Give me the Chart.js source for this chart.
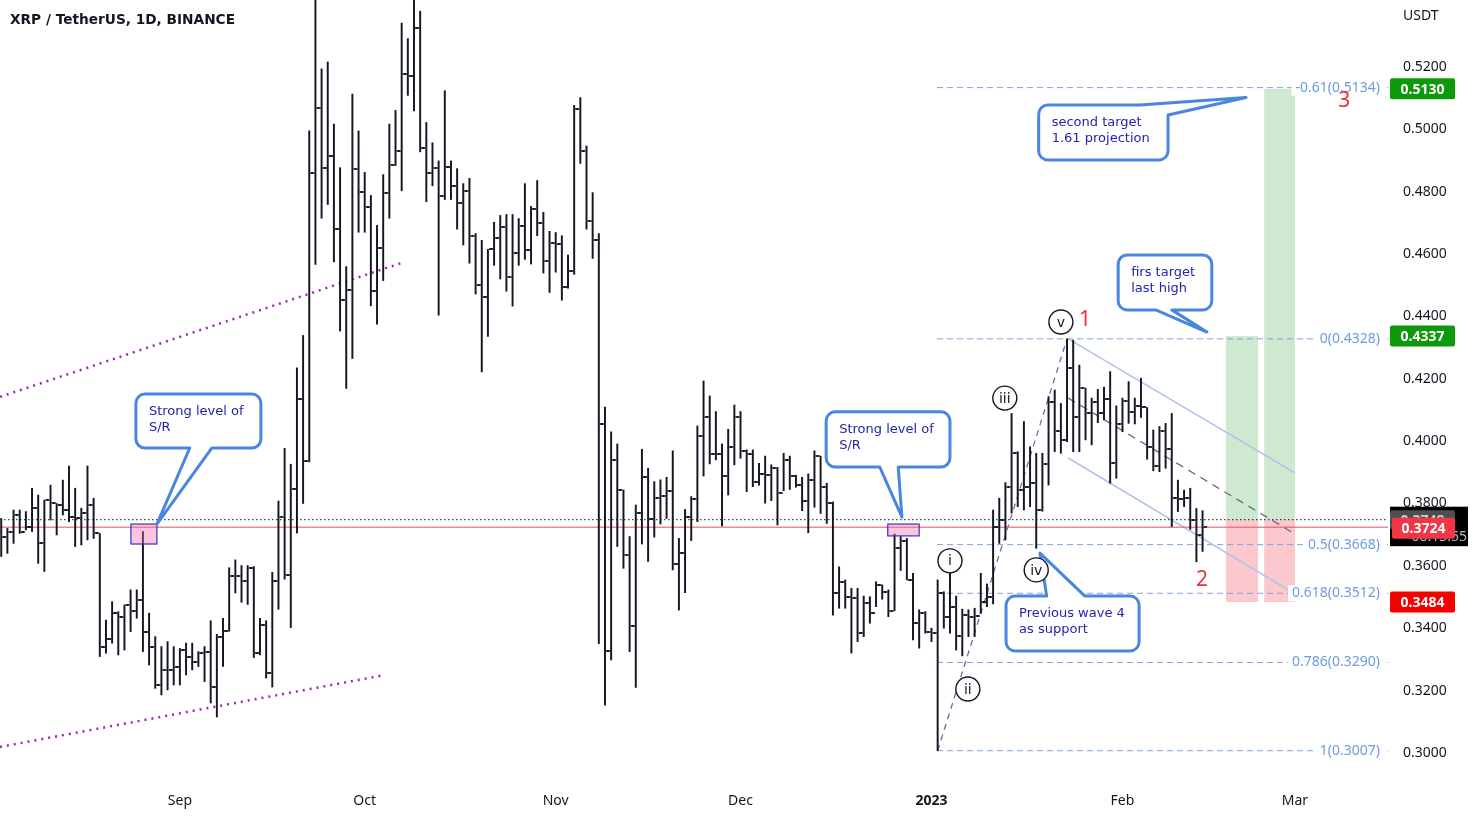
<!DOCTYPE html>
<html>
<head>
<meta charset="utf-8">
<script src="https://cdn.jsdelivr.net/npm/chart.js@4.4.0/dist/chart.umd.min.js"></script>
<style>
html, body { margin: 0; padding: 0; background: #fff; }
#wrap { width: 1475px; height: 818px; position: relative; }
</style>
</head>
<body>
<div id="wrap"><canvas id="canvas"></canvas></div>
<script>
// days are counted from 1 Sep 2022 (day 0), first daily bar is 3 Aug 2022
const firstDay = -29;

const opens = [0.3710,0.3694,0.3710,0.3763,0.3710,0.3725,0.3785,0.3672,0.3811,0.3800,
0.3795,0.3779,0.3758,0.3753,0.3769,0.3795,0.3704,0.3341,0.3364,0.3448,
0.3437,0.3475,0.3455,0.3491,0.3389,0.3341,0.3218,0.3266,0.3266,0.3277,
0.3330,0.3309,0.3293,0.3320,0.3325,0.3211,0.3373,0.3392,0.3569,0.3569,
0.3550,0.3594,0.3321,0.3410,0.3255,0.3550,0.3756,0.3572,0.3845,0.4135,
0.3936,0.4859,0.5068,0.4877,0.4914,0.4682,0.4454,0.4486,0.4874,0.4799,
0.4751,0.4483,0.4619,0.4796,0.4887,0.4931,0.5179,0.5170,0.5325,0.4939,
0.4859,0.4877,0.4787,0.4880,0.4819,0.4763,0.4801,0.4659,0.4502,0.4462,
0.4615,0.4651,0.4688,0.4528,0.4603,0.4690,0.4612,0.4743,0.4699,0.4579,
0.4637,0.4632,0.4495,0.4546,0.5066,0.4930,0.4705,0.4644,0.4055,0.3328,
0.3940,0.3843,0.3635,0.3407,0.3771,0.3886,0.3749,0.3816,0.3825,0.3841,
0.3606,0.3642,0.3756,0.3813,0.4017,0.4076,0.3959,0.3959,0.3888,0.3980,
0.4076,0.3969,0.3959,0.3870,0.3895,0.3891,0.3913,0.3833,0.3940,0.3888,
0.3859,0.3808,0.3875,0.3952,0.3852,0.3800,0.3512,0.3549,0.3501,0.3496,
0.3384,0.3482,0.3448,0.3539,0.3517,0.3456,0.3656,0.3681,0.3555,0.3418,
0.3448,0.3389,0.3384,0.3514,0.3435,0.3469,0.3375,0.3442,0.3437,0.3439,
0.3485,0.3501,0.3726,0.3747,0.3854,0.3961,0.3843,0.3854,0.3867,0.3779,
0.3927,0.4127,0.4034,0.4004,0.4233,0.4076,0.4169,0.4089,0.4124,0.4089,
0.4134,0.3931,0.4055,0.4130,0.4095,0.4113,0.4108,0.3982,0.3920,0.4034,
0.3974,0.3817,0.3813,0.3817,0.3747,0.3699];

const highs = [0.3752,0.3720,0.3779,0.3779,0.3774,0.3849,0.3827,0.3811,0.3859,0.3800,
0.3875,0.3920,0.3849,0.3785,0.3920,0.3817,0.3704,0.3426,0.3485,0.3453,
0.3475,0.3523,0.3523,0.3710,0.3448,0.3373,0.3341,0.3357,0.3341,0.3335,
0.3352,0.3352,0.3325,0.3341,0.3424,0.3380,0.3432,0.3594,0.3619,0.3601,
0.3601,0.3598,0.3432,0.3424,0.3579,0.3808,0.3977,0.3926,0.4235,0.4339,
0.4995,0.5450,0.5194,0.5216,0.5017,0.4877,0.4560,0.5113,0.4995,0.4862,
0.4788,0.4692,0.4855,0.5017,0.5061,0.5341,0.5291,0.5450,0.5379,0.5022,
0.4957,0.4899,0.5124,0.4899,0.4874,0.4826,0.4843,0.4666,0.4644,0.4615,
0.4702,0.4724,0.4727,0.4727,0.4714,0.4826,0.4753,0.4836,0.4734,0.4673,
0.4669,0.4659,0.4597,0.5077,0.5102,0.4947,0.4797,0.4666,0.4109,0.4030,
0.3991,0.3843,0.3694,0.3795,0.3974,0.3913,0.3870,0.3876,0.3884,0.3969,
0.3688,0.3781,0.3822,0.4049,0.4193,0.4145,0.4095,0.3991,0.4038,0.4116,
0.4095,0.3972,0.3972,0.3929,0.3952,0.3924,0.3916,0.3961,0.3952,0.3891,
0.3884,0.3895,0.3969,0.3952,0.3865,0.3805,0.3597,0.3555,0.3528,0.3528,
0.3503,0.3501,0.3549,0.3539,0.3523,0.3702,0.3694,0.3688,0.3576,0.3459,
0.3453,0.3400,0.3555,0.3517,0.3576,0.3503,0.3461,0.3459,0.3464,0.3576,
0.3542,0.3779,0.3817,0.3867,0.4089,0.3966,0.4063,0.3982,0.3961,0.3961,
0.4143,0.4164,0.4121,0.4328,0.4324,0.4244,0.4170,0.4138,0.4166,0.4173,
0.4223,0.4113,0.4138,0.4191,0.4138,0.4202,0.4108,0.4036,0.4047,0.4057,
0.4089,0.3875,0.3843,0.3849,0.3784,0.3777];

const lows = [0.3630,0.3640,0.3672,0.3704,0.3715,0.3710,0.3608,0.3582,0.3747,0.3699,
0.3763,0.3742,0.3662,0.3667,0.3683,0.3688,0.3309,0.3320,0.3352,0.3314,
0.3330,0.3389,0.3432,0.3325,0.3282,0.3207,0.3186,0.3202,0.3218,0.3218,
0.3250,0.3266,0.3277,0.3229,0.3160,0.3115,0.3277,0.3390,0.3513,0.3483,
0.3476,0.3306,0.3314,0.3240,0.3211,0.3461,0.3557,0.3402,0.3705,0.3800,
0.3933,0.4567,0.4715,0.4759,0.4575,0.4353,0.4169,0.4265,0.4670,0.4670,
0.4434,0.4375,0.4515,0.4715,0.4884,0.4803,0.5109,0.5059,0.4928,0.4768,
0.4819,0.4404,0.4775,0.4775,0.4680,0.4629,0.4571,0.4472,0.4222,0.4336,
0.4564,0.4520,0.4481,0.4433,0.4564,0.4583,0.4568,0.4659,0.4539,0.4477,
0.4542,0.4452,0.4491,0.4535,0.4891,0.4680,0.4586,0.3350,0.3153,0.3298,
0.3662,0.3592,0.3325,0.3210,0.3670,0.3614,0.3692,0.3734,0.3752,0.3587,
0.3458,0.3514,0.3681,0.3742,0.3888,0.3927,0.3940,0.3728,0.3827,0.3924,
0.3945,0.3838,0.3854,0.3859,0.3801,0.3809,0.3731,0.3841,0.3845,0.3852,
0.3777,0.3706,0.3788,0.3768,0.3736,0.3442,0.3464,0.3464,0.3320,0.3357,
0.3373,0.3416,0.3469,0.3493,0.3437,0.3456,0.3585,0.3555,0.3362,0.3336,
0.3384,0.3357,0.3007,0.3400,0.3384,0.3330,0.3311,0.3373,0.3373,0.3448,
0.3469,0.3478,0.3672,0.3683,0.3769,0.3790,0.3779,0.3790,0.3656,0.3775,
0.3859,0.3966,0.3961,0.3998,0.3966,0.3966,0.4004,0.3988,0.4059,0.4068,
0.3865,0.3881,0.4030,0.4057,0.4055,0.4076,0.3942,0.3905,0.3902,0.3913,
0.3726,0.3774,0.3790,0.3717,0.3613,0.3646];

const closes = [0.3694,0.3710,0.3763,0.3710,0.3725,0.3785,0.3672,0.3811,0.3800,0.3795,
0.3779,0.3758,0.3753,0.3769,0.3795,0.3704,0.3341,0.3364,0.3448,0.3437,
0.3475,0.3455,0.3491,0.3389,0.3341,0.3218,0.3266,0.3266,0.3277,0.3330,
0.3309,0.3293,0.3320,0.3325,0.3211,0.3373,0.3392,0.3569,0.3569,0.3550,
0.3594,0.3321,0.3410,0.3255,0.3550,0.3756,0.3572,0.3845,0.4135,0.3936,
0.4859,0.5068,0.4877,0.4914,0.4682,0.4454,0.4486,0.4874,0.4799,0.4751,
0.4483,0.4619,0.4796,0.4887,0.4931,0.5179,0.5170,0.5325,0.4939,0.4859,
0.4877,0.4787,0.4880,0.4819,0.4763,0.4801,0.4659,0.4502,0.4462,0.4615,
0.4651,0.4688,0.4528,0.4603,0.4690,0.4612,0.4743,0.4699,0.4579,0.4637,
0.4632,0.4495,0.4546,0.5066,0.4930,0.4705,0.4644,0.4055,0.3328,0.3940,
0.3843,0.3635,0.3407,0.3771,0.3886,0.3749,0.3816,0.3825,0.3841,0.3606,
0.3642,0.3756,0.3813,0.4017,0.4076,0.3959,0.3959,0.3888,0.3980,0.4076,
0.3969,0.3959,0.3870,0.3895,0.3891,0.3913,0.3833,0.3940,0.3888,0.3859,
0.3808,0.3875,0.3952,0.3852,0.3800,0.3512,0.3549,0.3501,0.3496,0.3384,
0.3482,0.3448,0.3539,0.3517,0.3456,0.3656,0.3681,0.3555,0.3418,0.3448,
0.3389,0.3384,0.3514,0.3435,0.3469,0.3375,0.3442,0.3437,0.3439,0.3485,
0.3501,0.3726,0.3747,0.3854,0.3961,0.3843,0.3854,0.3867,0.3779,0.3927,
0.4127,0.4034,0.4004,0.4233,0.4076,0.4169,0.4089,0.4124,0.4089,0.4134,
0.3931,0.4055,0.4130,0.4095,0.4113,0.4108,0.3982,0.3920,0.4034,0.3974,
0.3817,0.3813,0.3817,0.3747,0.3699,0.3724];

const days = closes.map((c, i) => firstDay + i);

// axes
const xMin = -29.2, xMax = 196.1;
const yMin = 0.2897, yMax = 0.5415;
const monthTicks = [0, 30, 61, 91, 122, 153, 181];
const monthLabels = ['Sep', 'Oct', 'Nov', 'Dec', '2023', 'Feb', 'Mar'];
const priceTicks = [0.30, 0.32, 0.34, 0.36, 0.38, 0.40, 0.42, 0.44, 0.46, 0.48, 0.50, 0.52];

// drawings (day, price)
const purpleUpper = [[-29.2, 0.4142], [36.5, 0.4575]];
const purpleLower = [[-29.2, 0.3019], [33.3, 0.3250]];
const waveLine = [[123, 0.3007], [144, 0.4328]];
const channelTop = [[144.2, 0.4328], [181.0, 0.3898]];
const channelMid = [[144.2, 0.4138], [181.0, 0.3702]];
const channelBottom = [[144.2, 0.3946], [181.0, 0.3510]];
const lastPrice = 0.3724;
const prevPrice = 0.3748;

const fibLevels = ['-0.61', '0', '0.5', '0.618', '0.786', '1'];
const fibPrices = [0.5134, 0.4328, 0.3668, 0.3512, 0.3290, 0.3007];
const fibStartDay = 122.9;

const srBoxes = [[-7.95, -3.73, 0.3734, 0.3670], [114.9, 120.0, 0.3734, 0.3696]];
const posBoxes = [
    { x0: 169.8, x1: 175.0, target: 0.4337, entry: 0.3748, stop: 0.3484 },
    { x0: 176.0, x1: 181.0, target: 0.5130, entry: 0.3748, stop: 0.3484 }
];
// side 'corner': pointer leaves the top edge at base[0] and comes back on the right edge at price base[1]
const callouts = [
    { lines: ['Strong level of', 'S/R'], box: [-7.14, 13.15, 0.4151, 0.3978], side: 'bottom', base: [1.6, 5.2], tip: [-3.73, 0.3734] },
    { lines: ['Strong level of', 'S/R'], box: [104.9, 125.0, 0.4094, 0.3917], side: 'bottom', base: [113.6, 116.6], tip: [117.2, 0.3756] },
    { lines: ['second target', '1.61 projection'], box: [139.4, 160.4, 0.5078, 0.4902], side: 'corner', base: [155.8, 0.5046], tip: [173.05, 0.5102] },
    { lines: ['firs target', 'last high'], box: [152.3, 167.5, 0.4597, 0.4421], side: 'bottom', base: [158.4, 161.0], tip: [166.7, 0.4350] },
    { lines: ['Previous wave 4', 'as support'], box: [134.1, 155.7, 0.3503, 0.3327], side: 'top', base: [140.7, 146.9], tip: [139.6, 0.3641] }
];
const waveLabels = [
    { t: 'i', d: 125.0, p: 0.3616 }, { t: 'ii', d: 127.9, p: 0.3205 }, { t: 'iii', d: 133.9, p: 0.4138 },
    { t: 'iv', d: 139.0, p: 0.3587 }, { t: 'v', d: 143.0, p: 0.4382 }
];
const countLabels = [{ t: '1', d: 146.9, p: 0.4389 }, { t: '2', d: 165.9, p: 0.3555 }, { t: '3', d: 189.0, p: 0.5091 }];
const axisTags = [
    { p: 0.5130, color: '#0c9a0c' }, { p: 0.4337, color: '#0c9a0c' }, { p: 0.3484, color: '#f50000' }
];

/**
 * Small image for the open (left) or close (right) tick of an OHLC bar
 */
function tickImage(side) {
    const c = document.createElement('canvas');
    c.width = 8; c.height = 2;
    const g = c.getContext('2d');
    g.fillStyle = 'rgba(19, 23, 34, 0.85)';
    g.fillRect(side === 'left' ? 0 : 5, 0, 3, 2);
    return c;
}

function lineSet(points, color, width, dash) {
    return {
        type: 'line',
        data: points.map(p => ({ x: p[0], y: p[1] })),
        borderColor: color, borderWidth: width, borderDash: dash || [],
        pointRadius: 0, fill: false, tension: 0, order: 5
    };
}

function calloutPath(g, L, T, R, B, r, c, X, Y) {
    const tx = X(c.tip[0]), ty = Y(c.tip[1]);
    g.beginPath();
    g.moveTo(L + r, T);
    if (c.side === 'top') { g.lineTo(X(c.base[0]), T); g.lineTo(tx, ty); g.lineTo(X(c.base[1]), T); }
    if (c.side === 'corner') {
        g.lineTo(X(c.base[0]), T); g.lineTo(tx, ty); g.lineTo(R, Y(c.base[1]));
    } else {
        g.lineTo(R - r, T);
        g.arcTo(R, T, R, T + r, r);
    }
    g.lineTo(R, B - r);
    g.arcTo(R, B, R - r, B, r);
    if (c.side === 'bottom') { g.lineTo(X(c.base[1]), B); g.lineTo(tx, ty); g.lineTo(X(c.base[0]), B); }
    g.lineTo(L + r, B);
    g.arcTo(L, B, L, B - r, r);
    g.lineTo(L, T + r);
    g.arcTo(L, T, L + r, T, r);
    g.closePath();
}

function tag(g, x, yc, w, h, bg, text, fg) {
    g.fillStyle = bg;
    g.beginPath();
    g.roundRect(x, yc - h / 2, w, h, 2);
    g.fill();
    g.fillStyle = fg;
    g.font = 'bold 14px "Noto Sans"';
    g.textAlign = 'center';
    g.textBaseline = 'middle';
    g.fillText(text, x + w / 2, yc + 1);
}

const drawings = {
    id: 'drawings',
    beforeDatasetsDraw(chart) {
        const g = chart.ctx, X = v => chart.scales.x.getPixelForValue(v), Y = v => chart.scales.y.getPixelForValue(v);
        g.save();
        posBoxes.forEach(b => {
            g.fillStyle = 'rgba(76, 175, 80, 0.27)';
            g.fillRect(X(b.x0), Y(b.target), X(b.x1) - X(b.x0), Y(b.entry) - Y(b.target));
            g.fillStyle = 'rgba(242, 54, 69, 0.27)';
            g.fillRect(X(b.x0), Y(b.entry), X(b.x1) - X(b.x0), Y(b.stop) - Y(b.entry));
        });
        g.restore();
    },
    afterDatasetsDraw(chart) {
        const g = chart.ctx, area = chart.chartArea;
        const X = v => chart.scales.x.getPixelForValue(v), Y = v => chart.scales.y.getPixelForValue(v);
        g.save();
        // support / resistance boxes
        srBoxes.forEach(b => {
            g.fillStyle = 'rgba(240, 110, 175, 0.4)';
            g.fillRect(X(b[0]), Y(b[2]), X(b[1]) - X(b[0]), Y(b[3]) - Y(b[2]));
            g.strokeStyle = '#3232c8';
            g.lineWidth = 1.2;
            g.strokeRect(X(b[0]), Y(b[2]), X(b[1]) - X(b[0]), Y(b[3]) - Y(b[2]));
        });
        // fib labels
        g.font = '14px "Noto Sans"';
        g.textBaseline = 'middle';
        g.textAlign = 'right';
        fibPrices.forEach((p, i) => {
            const txt = fibLevels[i] + '(' + p.toFixed(4) + ')';
            const w = g.measureText(txt).width;
            const xr = area.right - 8, y = Y(p);
            g.fillStyle = '#fff';
            g.fillRect(xr - w - 4, y - 8, w + 7, 16);
            g.fillStyle = '#6d9be0';
            g.fillText(txt, xr, y);
        });
        // callouts
        callouts.forEach(c => {
            const L = X(c.box[0]), R = X(c.box[1]), T = Y(c.box[2]), B = Y(c.box[3]);
            calloutPath(g, L, T, R, B, 9, c, X, Y);
            g.fillStyle = '#fff';
            g.fill();
            g.lineWidth = 3;
            g.strokeStyle = '#4a85e0';
            g.lineJoin = 'round';
            g.stroke();
            g.fillStyle = '#2424aa';
            g.font = '13px "DejaVu Sans"';
            g.textAlign = 'left';
            g.textBaseline = 'middle';
            c.lines.forEach((ln, i) => g.fillText(ln, L + 13, T + 18 + i * 15.5));
        });
        // elliott wave circles
        waveLabels.forEach(w => {
            const x = X(w.d), y = Y(w.p);
            g.beginPath();
            g.arc(x, y, 12, 0, Math.PI * 2);
            g.fillStyle = '#fff';
            g.fill();
            g.lineWidth = 1.4;
            g.strokeStyle = '#131722';
            g.stroke();
            g.fillStyle = '#131722';
            g.font = '14px "DejaVu Sans"';
            g.textAlign = 'center';
            g.textBaseline = 'middle';
            g.fillText(w.t, x, y + 1);
        });
        countLabels.forEach(w => {
            g.fillStyle = '#e8333c';
            g.font = '21px "Noto Sans"';
            g.textAlign = 'center';
            g.textBaseline = 'middle';
            g.fillText(w.t, X(w.d), Y(w.p));
        });
        g.restore();
    },
    afterDraw(chart) {
        const g = chart.ctx, area = chart.chartArea;
        const Y = v => chart.scales.y.getPixelForValue(v);
        g.save();
        g.fillStyle = '#131722';
        g.font = 'bold 13.7px "DejaVu Sans"';
        g.textAlign = 'left';
        g.textBaseline = 'middle';
        g.fillText('XRP / TetherUS, 1D, BINANCE', 10, 20);
        g.font = '14px "Noto Sans"';
        g.fillText('USDT', area.right + 15, 16);
        const x0 = area.right + 2;
        axisTags.forEach(t => tag(g, x0, Y(t.p), 65, 21, t.color, t.p.toFixed(4), '#fff'));
        // last price block
        const yp = Y(prevPrice), yl = Y(lastPrice);
        g.fillStyle = '#000';
        g.fillRect(x0, yp - 13, 78, yl - yp + 32);
        tag(g, x0, yp, 65, 19, '#4e4e4e', prevPrice.toFixed(4), '#d0d0d0');
        g.fillStyle = '#bbb';
        g.font = '14px "Noto Sans"';
        g.textAlign = 'right';
        g.textBaseline = 'middle';
        g.fillText('08:13:55', x0 + 77, yl + 10);
        tag(g, x0 + 2, yl + 1, 63, 21, '#f23645', lastPrice.toFixed(4), '#fff');
        g.restore();
    }
};

const fibSets = fibPrices.map(p => lineSet([[fibStartDay, p], [xMax, p]], '#7ea3dd', 1, [6, 4]));

var chart = new Chart(document.getElementById('canvas'), {
    type: 'bar',
    data: {
        datasets: [{
            data: days.map((d, i) => ({ x: d, y: [lows[i], highs[i]] })),
            backgroundColor: '#131722',
            borderWidth: 0,
            barThickness: 1.3,
            order: 1
        }, {
            type: 'scatter',
            data: days.map((d, i) => ({ x: d, y: opens[i] })),
            pointStyle: tickImage('left'),
            pointRadius: 3,
            order: 0
        }, {
            type: 'scatter',
            data: days.map((d, i) => ({ x: d, y: closes[i] })),
            pointStyle: tickImage('right'),
            pointRadius: 3,
            order: 0
        },
            lineSet(purpleUpper, '#9c27b0', 2.5, [2, 5]),
            lineSet(purpleLower, '#9c27b0', 2.5, [2, 5]),
            lineSet([[xMin, lastPrice], [xMax, lastPrice]], '#e0505a', 1),
            lineSet([[xMin, prevPrice], [xMax, prevPrice]], '#131722', 1, [1.5, 2.5]),
            lineSet(waveLine, '#6c6cab', 1.3, [6, 5]),
            lineSet(channelTop, '#afc3e8', 1.6),
            lineSet(channelBottom, '#afc3e8', 1.6),
            lineSet(channelMid, '#6e5f8c', 1.3, [8, 6])
        ].concat(fibSets)
    },
    options: {
        responsive: true,
        maintainAspectRatio: false,
        animation: false,
        layout: { padding: 0, autoPadding: false },
        plugins: { legend: { display: false }, tooltip: { enabled: false } },
        scales: {
            x: {
                type: 'linear', min: xMin, max: xMax, offset: false,
                grid: { display: false, drawTicks: false },
                border: { display: false },
                afterBuildTicks: s => { s.ticks = monthTicks.map(v => ({ value: v })); },
                afterFit: s => { s.height = 33; s.paddingLeft = 0; s.paddingRight = 0; },
                ticks: {
                    autoSkip: false, maxRotation: 0, padding: 8, color: '#131722',
                    font: c => ({ family: 'Noto Sans', size: 14, weight: c.tick && c.tick.value === 122 ? 'bold' : 'normal' }),
                    callback: v => monthLabels[monthTicks.indexOf(v)]
                }
            },
            y: {
                position: 'right', min: yMin, max: yMax,
                grid: { display: false, drawTicks: false },
                border: { display: false },
                afterBuildTicks: s => { s.ticks = priceTicks.map(v => ({ value: v })); },
                afterFit: s => { s.width = 87; s.paddingTop = 0; s.paddingBottom = 0; },
                ticks: { padding: 15, color: '#131722', font: { family: 'Noto Sans', size: 14 }, callback: v => v.toFixed(4) }
            }
        }
    },
    plugins: [drawings]
});
</script>
</body>
</html>
